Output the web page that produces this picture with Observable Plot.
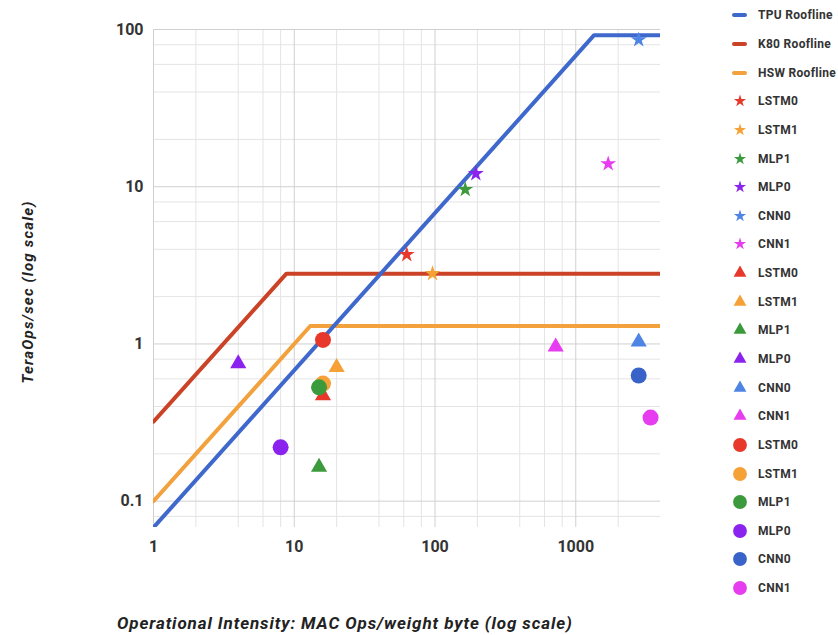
<!DOCTYPE html>
<html><head><meta charset="utf-8">
<script src="https://cdn.jsdelivr.net/npm/d3@7"></script>
<script src="https://cdn.jsdelivr.net/npm/@observablehq/plot@0.6"></script>
<style>
body{margin:0;background:#fff;font-family:Roboto,"Noto Sans",sans-serif}
#wrap{position:relative;width:838px;height:635px;overflow:hidden;background:#fff}
#chart{position:absolute;left:0;top:0}
#ytitle{position:absolute;left:28px;top:292px;transform:translate(-50%,-50%) rotate(-90deg);white-space:nowrap;font:italic bold 15px Roboto,sans-serif;letter-spacing:1.2px;color:#222}
#xtitle{position:absolute;left:117px;top:613px;line-height:18px;white-space:nowrap;font:italic bold 17px Roboto,sans-serif;letter-spacing:0.9px;color:#222}
#legend{position:absolute;left:730px;top:1px}
.row{display:flex;align-items:center;height:28.65px}
.row svg{width:20px;height:20px;flex:none}
.row span{margin-left:8px;font:bold 12px Roboto,sans-serif;letter-spacing:0.3px;color:#333;white-space:nowrap}
</style></head><body>
<div id="wrap"><div id="chart"></div><div id="ytitle">TeraOps/sec (log scale)</div><div id="xtitle">Operational Intensity: MAC Ops/weight byte (log scale)</div><div id="legend"></div></div>
<script>
// Rooflines
const rooflineNames = ["TPU Roofline", "K80 Roofline", "HSW Roofline"];
const rooflineColors = ["#3f68cc", "#cb4327", "#f2a13c"];
const tpuX = [1, 1350, 4000];
const tpuY = [0.068, 92, 92];
const k80X = [1, 8.8, 4000];
const k80Y = [0.32, 2.8, 2.8];
const hswX = [1, 13, 4000];
const hswY = [0.1, 1.3, 1.3];

// Workloads
const workloads = ["LSTM0", "LSTM1", "MLP1", "MLP0", "CNN0", "CNN1"];
// Stars (TPU)
const starX = [63, 96, 164, 195, 2800, 1700];
const starY = [3.7, 2.8, 9.6, 12.1, 86, 14];
const starColors = ["#e8382c", "#f5a136", "#3b9a3b", "#8a23ee", "#4e85e5", "#e73df0"];
// Triangles (K80)
const triX = [16, 20, 15, 4, 2800, 720];
const triY = [0.47, 0.71, 0.165, 0.75, 1.03, 0.96];
const triColors = ["#e8382c", "#f5a136", "#3b9a3b", "#8a23ee", "#4e85e5", "#e73df0"];
// Circles (HSW)
const circX = [16, 16, 15, 8, 2800, 3400];
const circY = [1.06, 0.56, 0.53, 0.22, 0.63, 0.34];
const circColors = ["#e8382c", "#f5a136", "#3b9a3b", "#8a23ee", "#3a63c9", "#e73df0"];

// Axis ticks
const xTicks = [1, 10, 100, 1000];
const yTicks = [0.1, 1, 10, 100];
const minorSteps = [2, 4, 6, 8];

const xMinor = xTicks.flatMap(d => minorSteps.map(m => d * m)).filter(v => v < 4000);
const yMinor = [0.01, 0.1, 1, 10].flatMap(d => minorSteps.map(m => +(d * m).toPrecision(3))).filter(v => v > 0.068 && v < 100);

const toPts = (xs, ys) => xs.map((x, i) => ({x, y: ys[i]}));
const toMarks = (xs, ys, cs) => xs.map((x, i) => ({x, y: ys[i], c: cs[i], name: workloads[i]}));

const chart = Plot.plot({
  width: 700, height: 635,
  marginLeft: 153, marginRight: 40, marginTop: 29, marginBottom: 108,
  style: {fontFamily: "Roboto, sans-serif", fontSize: "16px", fontWeight: "bold", color: "#333", background: "transparent", overflow: "visible"},
  x: {type: "log", domain: [1, 4000]},
  y: {type: "log", domain: [0.068, 100]},
  marks: [
    Plot.gridX(xMinor, {stroke: "#e4e4e4", strokeOpacity: 1}),
    Plot.gridY(yMinor, {stroke: "#e4e4e4", strokeOpacity: 1}),
    Plot.gridX(xTicks, {stroke: "#d0d0d0", strokeOpacity: 1}),
    Plot.gridY(yTicks, {stroke: "#d0d0d0", strokeOpacity: 1}),
    Plot.axisX(xTicks, {tickSize: 0, tickPadding: 13, tickFormat: d => String(d), label: null}),
    Plot.axisY(yTicks, {tickSize: 0, tickPadding: 10, tickFormat: d => String(d), label: null}),
    Plot.line(toPts(hswX, hswY), {x: "x", y: "y", stroke: rooflineColors[2], strokeWidth: 4, clip: true}),
    Plot.line(toPts(k80X, k80Y), {x: "x", y: "y", stroke: rooflineColors[1], strokeWidth: 4, clip: true}),
    Plot.line(toPts(tpuX, tpuY), {x: "x", y: "y", stroke: rooflineColors[0], strokeWidth: 4, clip: true}),
    Plot.dot(toMarks(starX, starY, starColors), {x: "x", y: "y", fill: d => d.c, symbol: "star", r: 5}),
    Plot.dot(toMarks(triX, triY, triColors), {x: "x", y: "y", fill: d => d.c, symbol: "triangle", r: 6}),
    Plot.dot(toMarks(circX, circY, circColors), {x: "x", y: "y", fill: d => d.c, symbol: "circle", r: 8})
  ]
});
document.getElementById("chart").appendChild(chart);

// Legend
const legend = d3.select("#legend");
const entries = [
  ...rooflineNames.map((n, i) => ({label: n, kind: "line", color: rooflineColors[i]})),
  ...workloads.map((n, i) => ({label: n, kind: "star", color: starColors[i]})),
  ...workloads.map((n, i) => ({label: n, kind: "triangle", color: triColors[i]})),
  ...workloads.map((n, i) => ({label: n, kind: "circle", color: circColors[i]}))
];
const symMap = {star: [d3.symbolStar, 46], triangle: [d3.symbolTriangle, 72], circle: [d3.symbolCircle, 150]};
entries.forEach(e => {
  const row = legend.append("div").attr("class", "row");
  const svg = row.append("svg").attr("viewBox", "-10 -10 20 20");
  if (e.kind === "line") {
    svg.append("line").attr("x1", -6).attr("x2", 5).attr("stroke", e.color).attr("stroke-width", 4).attr("stroke-linecap", "round");
  } else {
    const [t, s] = symMap[e.kind];
    svg.append("path").attr("d", d3.symbol(t, s)()).attr("fill", e.color);
  }
  row.append("span").text(e.label);
});
</script>
</body></html>
